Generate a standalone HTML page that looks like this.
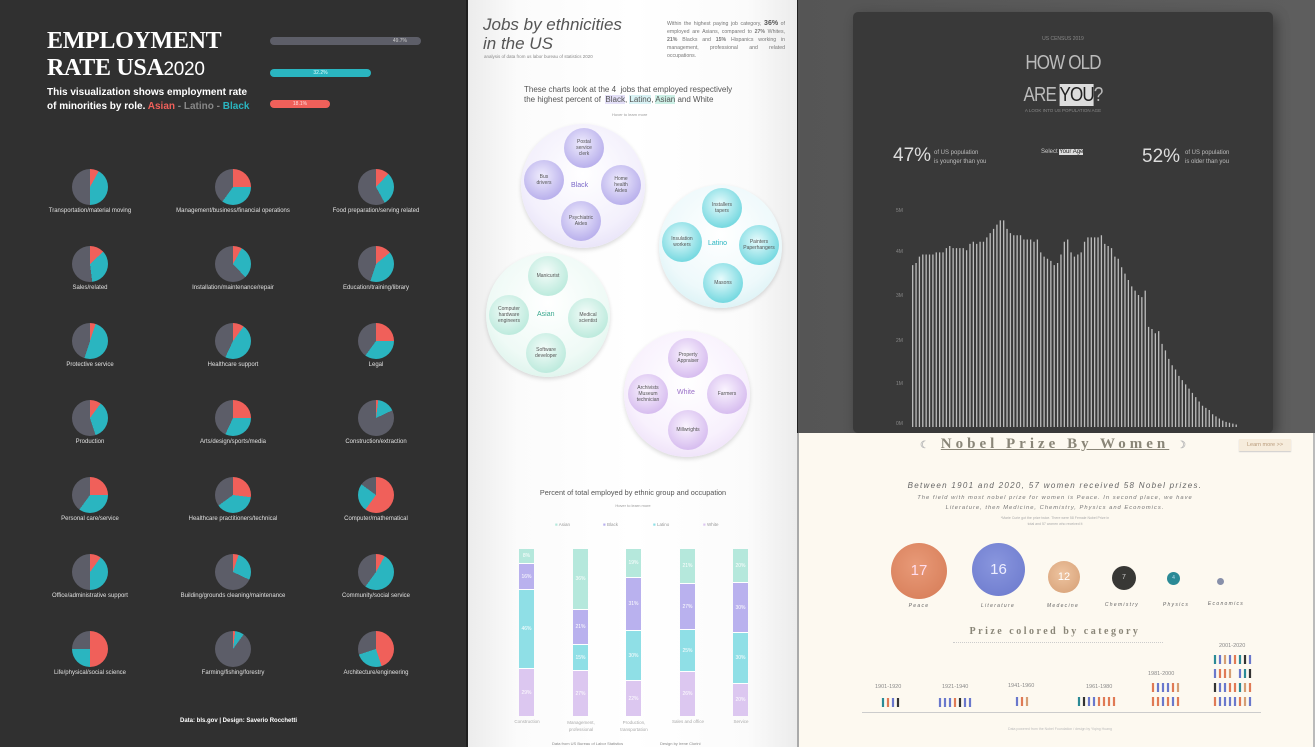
<!DOCTYPE html>
<html><head><meta charset="utf-8"><style>
*{margin:0;padding:0;box-sizing:border-box}
body{width:1315px;height:747px;overflow:hidden;position:relative;background:#2f2f2f;font-family:"Liberation Sans",sans-serif}
.a{position:absolute}
.pie{position:absolute;width:36px;height:36px;border-radius:50%}
.pl{position:absolute;width:160px;text-align:center;color:#e0e0e0;font-size:6px}
.bc{position:absolute;border-radius:50%;background:radial-gradient(circle at 50% 40%,#fff 0%,#f3f0fc 60%,#ddd6f4 100%);box-shadow:0 2px 4px rgba(0,0,0,.15)}
.sc{position:absolute;width:40px;height:40px;border-radius:50%;display:flex;align-items:center;justify-content:center;text-align:center;font-size:5px;line-height:6px;color:#555}
.sb{position:absolute;width:15px}
.sb div{color:#fff;font-size:5px;text-align:center;display:flex;align-items:center;justify-content:center;border-bottom:1px solid #fff}
</style></head><body>
<!-- LEFT PANEL -->
<div class="a" style="left:0;top:0;width:466px;height:747px;background:#303030"></div>
<div class="a" style="left:47px;top:28px;color:#fff;font-family:'Liberation Serif',serif;font-weight:bold;font-size:24px;line-height:27px;letter-spacing:-0.3px">EMPLOYMENT<br>RATE USA<span style="font-weight:normal;font-family:'Liberation Sans',sans-serif;font-size:19px">2020</span></div>
<div class="a" style="left:47px;top:86px;color:#fff;font-size:10px;font-weight:bold;line-height:14px">This visualization shows employment rate<br>of minorities by role. <span style="color:#f0605a">Asian</span> <span style="color:#888">- Latino -</span> <span style="color:#2ab5c0">Black</span></div>
<div class="a" style="left:270px;top:37px;width:151px;height:8px;border-radius:4px;background:#5d5e68;color:#ccc;font-size:5px;text-align:right;padding-right:14px;line-height:8px">49.7%</div>
<div class="a" style="left:270px;top:69px;width:101px;height:8px;border-radius:4px;background:#2ab5c0;color:#dff;font-size:5px;text-align:center;line-height:8px">32.2%</div>
<div class="a" style="left:270px;top:100px;width:60px;height:8px;border-radius:4px;background:#f0605a;color:#fdd;font-size:5px;text-align:center;line-height:8px">18.1%</div>
<div class="a" style="left:180px;top:718px;color:#fff;font-size:6px;font-weight:bold">Data: bls.gov | Design: Saverio Rocchetti</div>

<div class="pie" style="left:72px;top:169px;background:conic-gradient(#f0605a 0 8%,#2ab5c0 0 50%,#5c5d68 0)"></div>
<div class="pie" style="left:215px;top:169px;background:conic-gradient(#f0605a 0 25%,#2ab5c0 0 60%,#5c5d68 0)"></div>
<div class="pie" style="left:358px;top:169px;background:conic-gradient(#f0605a 0 12%,#2ab5c0 0 42%,#5c5d68 0)"></div>
<div class="pie" style="left:72px;top:246px;background:conic-gradient(#f0605a 0 13%,#2ab5c0 0 48%,#5c5d68 0)"></div>
<div class="pie" style="left:215px;top:246px;background:conic-gradient(#f0605a 0 8%,#2ab5c0 0 38%,#5c5d68 0)"></div>
<div class="pie" style="left:358px;top:246px;background:conic-gradient(#f0605a 0 14%,#2ab5c0 0 55%,#5c5d68 0)"></div>
<div class="pie" style="left:72px;top:323px;background:conic-gradient(#f0605a 0 5%,#2ab5c0 0 55%,#5c5d68 0)"></div>
<div class="pie" style="left:215px;top:323px;background:conic-gradient(#f0605a 0 10%,#2ab5c0 0 57%,#5c5d68 0)"></div>
<div class="pie" style="left:358px;top:323px;background:conic-gradient(#f0605a 0 25%,#2ab5c0 0 60%,#5c5d68 0)"></div>
<div class="pie" style="left:72px;top:400px;background:conic-gradient(#f0605a 0 10%,#2ab5c0 0 45%,#5c5d68 0)"></div>
<div class="pie" style="left:215px;top:400px;background:conic-gradient(#f0605a 0 25%,#2ab5c0 0 57%,#5c5d68 0)"></div>
<div class="pie" style="left:358px;top:400px;background:conic-gradient(#f0605a 0 2%,#2ab5c0 0 18%,#5c5d68 0)"></div>
<div class="pie" style="left:72px;top:477px;background:conic-gradient(#f0605a 0 25%,#2ab5c0 0 60%,#5c5d68 0)"></div>
<div class="pie" style="left:215px;top:477px;background:conic-gradient(#f0605a 0 27%,#2ab5c0 0 65%,#5c5d68 0)"></div>
<div class="pie" style="left:358px;top:477px;background:conic-gradient(#f0605a 0 60%,#2ab5c0 0 85%,#5c5d68 0)"></div>
<div class="pie" style="left:72px;top:554px;background:conic-gradient(#f0605a 0 10%,#2ab5c0 0 50%,#5c5d68 0)"></div>
<div class="pie" style="left:215px;top:554px;background:conic-gradient(#f0605a 0 5%,#2ab5c0 0 32%,#5c5d68 0)"></div>
<div class="pie" style="left:358px;top:554px;background:conic-gradient(#f0605a 0 8%,#2ab5c0 0 60%,#5c5d68 0)"></div>
<div class="pie" style="left:72px;top:631px;background:conic-gradient(#f0605a 0 50%,#2ab5c0 0 75%,#5c5d68 0)"></div>
<div class="pie" style="left:215px;top:631px;background:conic-gradient(#f0605a 0 2%,#2ab5c0 0 10%,#5c5d68 0)"></div>
<div class="pie" style="left:358px;top:631px;background:conic-gradient(#f0605a 0 45%,#2ab5c0 0 70%,#5c5d68 0)"></div>

<div class="pl" style="left:10px;top:208px">Transportation/material moving</div>
<div class="pl" style="left:153px;top:208px">Management/business/financial operations</div>
<div class="pl" style="left:296px;top:208px">Food preparation/serving related</div>
<div class="pl" style="left:10px;top:285px">Sales/related</div>
<div class="pl" style="left:153px;top:285px">Installation/maintenance/repair</div>
<div class="pl" style="left:296px;top:285px">Education/training/library</div>
<div class="pl" style="left:10px;top:362px">Protective service</div>
<div class="pl" style="left:153px;top:362px">Healthcare support</div>
<div class="pl" style="left:296px;top:362px">Legal</div>
<div class="pl" style="left:10px;top:439px">Production</div>
<div class="pl" style="left:153px;top:439px">Arts/design/sports/media</div>
<div class="pl" style="left:296px;top:439px">Construction/extraction</div>
<div class="pl" style="left:10px;top:516px">Personal care/service</div>
<div class="pl" style="left:153px;top:516px">Healthcare practitioners/technical</div>
<div class="pl" style="left:296px;top:516px">Computer/mathematical</div>
<div class="pl" style="left:10px;top:593px">Office/administrative support</div>
<div class="pl" style="left:153px;top:593px">Building/grounds cleaning/maintenance</div>
<div class="pl" style="left:296px;top:593px">Community/social service</div>
<div class="pl" style="left:10px;top:670px">Life/physical/social science</div>
<div class="pl" style="left:153px;top:670px">Farming/fishing/forestry</div>
<div class="pl" style="left:296px;top:670px">Architecture/engineering</div>

<!-- MIDDLE PANEL -->
<div class="a" style="left:466px;top:0;width:332px;height:747px;background:#1f1f1f"></div>
<div class="a" style="left:468px;top:0;width:329px;height:747px;background:linear-gradient(90deg,#ececec,#fbfbfb 15%,#fff 50%,#fbfbfb 85%,#ececec)"></div>
<div class="a" style="left:483px;top:15px;color:#555;font-style:italic;font-size:17px;line-height:19px">Jobs by ethnicities<br>in the US</div>
<div class="a" style="left:484px;top:54px;color:#888;font-size:4.5px">analysis of data from us labor bureau of statistics 2020</div>
<div class="a" style="left:667px;top:20px;width:118px;color:#777;font-size:5.2px;line-height:8px;text-align:justify">Within the highest paying job category, <b style="color:#555;font-size:7px">36%</b> of employed are Asians, compared to <b>27%</b> Whites, <b>21%</b> Blacks and <b>15%</b> Hispanics working in management, professional and related occupations.</div>
<div class="a" style="left:524px;top:85px;color:#555;font-size:8px;line-height:10px">These charts look at the 4 &nbsp;jobs that employed respectively<br>the highest percent of &nbsp;<span style="background:#e4e0f8">Black</span>, <span style="background:#d8f2f4">Latino</span>, <span style="background:#cdf0e6">Asian</span> and White</div>
<div class="a" style="left:612px;top:112px;color:#999;font-size:4px">Hover to learn more</div>

<div class="bc" style="left:521px;top:124px;width:124px;height:124px"></div>
<div class="a" style="left:571px;top:182px;color:#7a68c8;font-size:7px">Black</div>
<div class="sc" style="left:564px;top:128px;background:radial-gradient(circle at 45% 40%,#f0edfd,#a59ae6)">Postal<br>service<br>clerk</div>
<div class="sc" style="left:524px;top:160px;background:radial-gradient(circle at 45% 40%,#f0edfd,#a59ae6)">Bus<br>drivers</div>
<div class="sc" style="left:601px;top:165px;background:radial-gradient(circle at 45% 40%,#f0edfd,#a59ae6)">Home<br>health<br>Aides</div>
<div class="sc" style="left:561px;top:201px;background:radial-gradient(circle at 45% 40%,#f0edfd,#a59ae6)">Psychiatric<br>Aides</div>

<div class="bc" style="left:659px;top:185px;width:123px;height:123px;background:radial-gradient(circle at 50% 40%,#fff 0%,#eef9fb 60%,#c9ecf0 100%)"></div>
<div class="a" style="left:708px;top:240px;color:#2ab5c0;font-size:7px">Latino</div>
<div class="sc" style="left:702px;top:188px;background:radial-gradient(circle at 45% 40%,#e8fbfc,#4cccd6)">Installers<br>tapers</div>
<div class="sc" style="left:662px;top:222px;background:radial-gradient(circle at 45% 40%,#e8fbfc,#4cccd6)">Insulation<br>workers</div>
<div class="sc" style="left:739px;top:225px;background:radial-gradient(circle at 45% 40%,#e8fbfc,#4cccd6)">Painters<br>Paperhangers</div>
<div class="sc" style="left:703px;top:263px;background:radial-gradient(circle at 45% 40%,#e8fbfc,#4cccd6)">Masons</div>

<div class="bc" style="left:486px;top:253px;width:124px;height:124px;background:radial-gradient(circle at 50% 40%,#fff 0%,#effaf6 60%,#cdeee3 100%)"></div>
<div class="a" style="left:537px;top:311px;color:#3aa88e;font-size:7px">Asian</div>
<div class="sc" style="left:528px;top:256px;background:radial-gradient(circle at 45% 40%,#f4fcf9,#a9e4d3)">Manicurist</div>
<div class="sc" style="left:489px;top:295px;background:radial-gradient(circle at 45% 40%,#f4fcf9,#a9e4d3)">Computer<br>hardware<br>engineers</div>
<div class="sc" style="left:568px;top:298px;background:radial-gradient(circle at 45% 40%,#f4fcf9,#a9e4d3)">Medical<br>scientist</div>
<div class="sc" style="left:526px;top:333px;background:radial-gradient(circle at 45% 40%,#f4fcf9,#a9e4d3)">Software<br>developer</div>

<div class="bc" style="left:624px;top:331px;width:126px;height:126px;background:radial-gradient(circle at 50% 40%,#fff 0%,#f8f1fd 60%,#e4d2f4 100%)"></div>
<div class="a" style="left:677px;top:389px;color:#9a6fc8;font-size:7px">White</div>
<div class="sc" style="left:668px;top:338px;background:radial-gradient(circle at 45% 40%,#faf4fe,#caa9ea)">Property<br>Appraiser</div>
<div class="sc" style="left:628px;top:374px;background:radial-gradient(circle at 45% 40%,#faf4fe,#caa9ea)">Archivists<br>Museum<br>technician</div>
<div class="sc" style="left:707px;top:374px;background:radial-gradient(circle at 45% 40%,#faf4fe,#caa9ea)">Farmers</div>
<div class="sc" style="left:668px;top:410px;background:radial-gradient(circle at 45% 40%,#faf4fe,#caa9ea)">Millwrights</div>

<div class="a" style="left:469px;top:488px;width:328px;text-align:center;color:#555;font-size:7.3px">Percent of total employed by ethnic group and occupation</div>
<div class="a" style="left:469px;top:503px;width:328px;text-align:center;color:#999;font-size:4px">Hover to learn more</div>
<div class="a" style="left:555px;top:522px;color:#999;font-size:4.5px"><span style="color:#b5e8dc">■</span> Asian</div>
<div class="a" style="left:603px;top:522px;color:#999;font-size:4.5px"><span style="color:#b9b1ee">■</span> Black</div>
<div class="a" style="left:653px;top:522px;color:#999;font-size:4.5px"><span style="color:#8fdfe6">■</span> Latino</div>
<div class="a" style="left:703px;top:522px;color:#999;font-size:4.5px"><span style="color:#dcc7f0">■</span> White</div>

<div class="sb" style="left:519px;top:549px"><div style="height:15px;background:#b5e8dc">8%</div><div style="height:26px;background:#b9b1ee">16%</div><div style="height:79px;background:#8fdfe6">46%</div><div style="height:47px;background:#dcc7f0;border:0">29%</div></div>
<div class="sb" style="left:573px;top:549px"><div style="height:61px;background:#b5e8dc">36%</div><div style="height:35px;background:#b9b1ee">21%</div><div style="height:26px;background:#8fdfe6">15%</div><div style="height:45px;background:#dcc7f0;border:0">27%</div></div>
<div class="sb" style="left:626px;top:549px"><div style="height:29px;background:#b5e8dc">19%</div><div style="height:53px;background:#b9b1ee">31%</div><div style="height:50px;background:#8fdfe6">30%</div><div style="height:35px;background:#dcc7f0;border:0">22%</div></div>
<div class="sb" style="left:680px;top:549px"><div style="height:35px;background:#b5e8dc">21%</div><div style="height:46px;background:#b9b1ee">27%</div><div style="height:42px;background:#8fdfe6">25%</div><div style="height:44px;background:#dcc7f0;border:0">26%</div></div>
<div class="sb" style="left:733px;top:549px"><div style="height:34px;background:#b5e8dc">20%</div><div style="height:50px;background:#b9b1ee">30%</div><div style="height:51px;background:#8fdfe6">30%</div><div style="height:32px;background:#dcc7f0;border:0">20%</div></div>
<div class="a" style="left:505px;top:719px;width:44px;text-align:center;color:#aaa;font-size:4.5px">Construction</div>
<div class="a" style="left:559px;top:719px;width:44px;text-align:center;color:#aaa;font-size:4.5px;line-height:7px">Management,<br>professional</div>
<div class="a" style="left:612px;top:719px;width:44px;text-align:center;color:#aaa;font-size:4.5px;line-height:7px">Production,<br>transportation</div>
<div class="a" style="left:666px;top:719px;width:44px;text-align:center;color:#aaa;font-size:4.5px">Sales and office</div>
<div class="a" style="left:719px;top:719px;width:44px;text-align:center;color:#aaa;font-size:4.5px">Service</div>
<div class="a" style="left:552px;top:741px;color:#888;font-size:4px">Data from US Bureau of Labor Statistics</div>
<div class="a" style="left:660px;top:741px;color:#888;font-size:4px">Design by Irene Clorini</div>

<!-- RIGHT TOP -->
<div class="a" style="left:798px;top:0;width:517px;height:433px;background:linear-gradient(90deg,#555,#5e5e5e)"></div>
<div class="a" style="left:853px;top:12px;width:420px;height:421px;background:#393939;border-radius:5px;box-shadow:4px 4px 12px rgba(0,0,0,.35)"></div>
<div class="a" style="left:853px;top:36px;width:420px;text-align:center;color:#888;font-size:5px">US CENSUS 2019</div>
<div class="a" style="left:853px;top:47px;width:420px;text-align:center;color:#bbb;font-size:20px;line-height:32px;letter-spacing:-1px;transform:scaleX(0.85)">HOW OLD<br>ARE <span style="background:#ddd;color:#222">YOU</span>?</div>
<div class="a" style="left:853px;top:108px;width:420px;text-align:center;color:#888;font-size:4.5px">A LOOK INTO US POPULATION AGE</div>
<div class="a" style="left:893px;top:145px;color:#ddd;font-size:19px">47%</div>
<div class="a" style="left:934px;top:149px;color:#bbb;font-size:6px;line-height:9px">of US population<br>is younger than you</div>
<div class="a" style="left:1041px;top:149px;color:#ccc;font-size:6px">Select <span style="background:#ddd;color:#222">Your Age</span></div>
<div class="a" style="left:1142px;top:146px;color:#ddd;font-size:19px">52%</div>
<div class="a" style="left:1185px;top:149px;color:#bbb;font-size:6px;line-height:9px">of US population<br>is older than you</div>
<div class="a" style="left:896px;top:208px;color:#888;font-size:5px">5M</div>
<div class="a" style="left:896px;top:249px;color:#888;font-size:5px">4M</div>
<div class="a" style="left:896px;top:293px;color:#888;font-size:5px">3M</div>
<div class="a" style="left:896px;top:338px;color:#888;font-size:5px">2M</div>
<div class="a" style="left:896px;top:381px;color:#888;font-size:5px">1M</div>
<div class="a" style="left:896px;top:421px;color:#888;font-size:5px">0M</div>
<svg class="a" style="left:0;top:0" width="1315" height="747">
<g transform="translate(911,427) scale(3.37,-4.26)">
<path fill="none" stroke="#bdbdbd" stroke-width="1.3" vector-effect="non-scaling-stroke" d="M0.5 0V38M1.5 0V38.5M2.5 0V40M3.5 0V40.5M4.5 0V40.5M5.5 0V40.5M6.5 0V40.5M7.5 0V41M8.5 0V41M9.5 0V41M10.5 0V42M11.5 0V42.5M12.5 0V42M13.5 0V42M14.5 0V42M15.5 0V42M16.5 0V41.5M17.5 0V43M18.5 0V43.5M19.5 0V43M20.5 0V43.5M21.5 0V43.5M22.5 0V44.5M23.5 0V45.5M24.5 0V46.5M25.5 0V47.5M26.5 0V48.5M27.5 0V48.5M28.5 0V46.5M29.5 0V45.5M30.5 0V45M31.5 0V45M32.5 0V45M33.5 0V44M34.5 0V44M35.5 0V44M36.5 0V43.5M37.5 0V44M38.5 0V41M39.5 0V40M40.5 0V39.5M41.5 0V39M42.5 0V38M43.5 0V38.5M44.5 0V40.5M45.5 0V43.5M46.5 0V44M47.5 0V41M48.5 0V40M49.5 0V40.5M50.5 0V41M51.5 0V43.5M52.5 0V44.5M53.5 0V44.5M54.5 0V44.5M55.5 0V44.5M56.5 0V45M57.5 0V43M58.5 0V42.5M59.5 0V42M60.5 0V40M61.5 0V39.5M62.5 0V37.5M63.5 0V36M64.5 0V34.5M65.5 0V33M66.5 0V32M67.5 0V31M68.5 0V30.5M69.5 0V32M70.5 0V23.5M71.5 0V23M72.5 0V22M73.5 0V22.5M74.5 0V19.5M75.5 0V18M76.5 0V16M77.5 0V14.5M78.5 0V13.5M79.5 0V12M80.5 0V11M81.5 0V10M82.5 0V9M83.5 0V8M84.5 0V7M85.5 0V6M86.5 0V5M87.5 0V4.5M88.5 0V4M89.5 0V3M90.5 0V2.5M91.5 0V2M92.5 0V1.5M93.5 0V1.2M94.5 0V1M95.5 0V0.8M96.5 0V0.6"/>
</g></svg>

<!-- RIGHT BOTTOM -->
<div class="a" style="left:797px;top:433px;width:518px;height:314px;background:#fdf9f0;border-left:2px solid #aaa;border-right:2px solid #bbb"></div>
<div class="a" style="left:860px;top:436px;width:390px;text-align:center;color:#8a8678;font-family:'Liberation Serif',serif;font-weight:bold;font-size:15px;letter-spacing:4px"><span style="font-size:10px;color:#bbb">☾</span> <u>Nobel Prize By Women</u> <span style="font-size:10px;color:#bbb">☽</span></div>
<div class="a" style="left:1239px;top:439px;width:52px;height:12px;background:#f6ecdc;color:#b89a7a;font-size:5.5px;line-height:12px;text-align:center;box-shadow:0 1px 1px #ccc">Learn more &gt;&gt;</div>
<div class="a" style="left:860px;top:481px;width:390px;text-align:center;color:#666;font-style:italic;font-size:8px;letter-spacing:1.3px">Between 1901 and 2020, 57 women received 58 Nobel prizes.</div>
<div class="a" style="left:860px;top:493px;width:390px;text-align:center;color:#777;font-style:italic;font-size:5.8px;letter-spacing:1px;line-height:10px">The field with most nobel prize for women is Peace. In second place, we have<br>Literature, then Medicine, Chemistry, Physics and Economics.</div>
<div class="a" style="left:860px;top:515px;width:390px;text-align:center;color:#aaa;font-size:3.5px;line-height:6px">*Marie Curie got the prize twice. There were 58 Female Nobel Prize in<br>total and 57 women who received it</div>
<div class="a" style="left:891px;top:543px;width:56px;height:56px;border-radius:50%;background:radial-gradient(circle at 45% 40%,#e89a78,#d57a55);color:#fde;font-size:15px;text-align:center;line-height:56px">17</div>
<div class="a" style="left:972px;top:543px;width:53px;height:53px;border-radius:50%;background:radial-gradient(circle at 45% 40%,#8996de,#6a78cc);color:#eef;font-size:15px;text-align:center;line-height:53px">16</div>
<div class="a" style="left:1048px;top:561px;width:32px;height:32px;border-radius:50%;background:radial-gradient(circle at 45% 40%,#eec4a0,#d59e74);color:#fff;font-size:11px;text-align:center;line-height:32px">12</div>
<div class="a" style="left:1112px;top:566px;width:24px;height:24px;border-radius:50%;background:#383835;color:#ccc;font-size:7px;text-align:center;line-height:24px">7</div>
<div class="a" style="left:1167px;top:572px;width:13px;height:13px;border-radius:50%;background:#2b8a96;color:#bde;font-size:5px;text-align:center;line-height:13px">4</div>
<div class="a" style="left:1217px;top:578px;width:7px;height:7px;border-radius:50%;background:#8890aa"></div>
<div class="a" style="left:889px;top:603px;width:60px;text-align:center;color:#666;font-style:italic;font-size:5px;letter-spacing:1.3px">Peace</div>
<div class="a" style="left:968px;top:603px;width:60px;text-align:center;color:#666;font-style:italic;font-size:5px;letter-spacing:1.3px">Literature</div>
<div class="a" style="left:1033px;top:603px;width:60px;text-align:center;color:#666;font-style:italic;font-size:5px;letter-spacing:1.3px">Medecine</div>
<div class="a" style="left:1092px;top:602px;width:60px;text-align:center;color:#666;font-style:italic;font-size:5px;letter-spacing:1.3px">Chemistry</div>
<div class="a" style="left:1146px;top:602px;width:60px;text-align:center;color:#666;font-style:italic;font-size:5px;letter-spacing:1.3px">Physics</div>
<div class="a" style="left:1196px;top:601px;width:60px;text-align:center;color:#666;font-style:italic;font-size:5px;letter-spacing:1.3px">Economics</div>
<div class="a" style="left:900px;top:626px;width:310px;text-align:center;color:#8a8678;font-family:'Liberation Serif',serif;font-weight:bold;font-size:10px;letter-spacing:2.5px">Prize colored by category</div>
<div class="a" style="left:953px;top:642px;width:210px;border-top:1px dotted #ccc"></div>
<div class="a" style="left:862px;top:712px;width:399px;border-top:1px solid #ccc"></div>
<div class="a" style="left:875px;top:684px;color:#888;font-size:5.5px">1901-1920</div>
<div class="a" style="left:942px;top:684px;color:#888;font-size:5.5px">1921-1940</div>
<div class="a" style="left:1008px;top:683px;color:#888;font-size:5.5px">1941-1960</div>
<div class="a" style="left:1086px;top:684px;color:#888;font-size:5.5px">1961-1980</div>
<div class="a" style="left:1148px;top:671px;color:#888;font-size:5.5px">1981-2000</div>
<div class="a" style="left:1219px;top:643px;color:#888;font-size:5.5px">2001-2020</div>
<svg class="a" style="left:0;top:0" width="1315" height="747">
<g stroke-width="2.2">
<path stroke="#2b8a96" d="M883 698v9"/><path stroke="#e07a55" d="M888 698v9"/><path stroke="#6a78cc" d="M893 698v9"/><path stroke="#333" d="M898 698v9"/>
<path stroke="#6a78cc" d="M940 698v9M945 698v9M950 698v9M965 698v9M970 698v9"/><path stroke="#e07a55" d="M955 698v9"/><path stroke="#333" d="M960 698v9"/>
<path stroke="#6a78cc" d="M1017 697v9"/><path stroke="#e07a55" d="M1022 697v9"/><path stroke="#d59e74" d="M1027 697v9"/>
<path stroke="#2b8a96" d="M1079 697v9"/><path stroke="#333" d="M1084 697v9"/><path stroke="#6a78cc" d="M1089 697v9M1094 697v9"/><path stroke="#e07a55" d="M1099 697v9M1104 697v9M1109 697v9M1114 697v9"/>
<path stroke="#e07a55" d="M1153 697v9M1158 697v9M1168 697v9M1178 697v9M1153 683v9M1173 683v9"/><path stroke="#6a78cc" d="M1163 697v9M1173 697v9M1158 683v9M1163 683v9M1168 683v9"/><path stroke="#d59e74" d="M1178 683v9"/>
<path stroke="#e07a55" d="M1215 697v9M1240 697v9M1230 683v9M1235 683v9M1220 669v9M1225 669v9M1235 655v9"/><path stroke="#6a78cc" d="M1220 697v9M1225 697v9M1230 697v9M1235 697v9M1250 697v9M1220 683v9M1225 683v9M1215 669v9M1240 669v9M1220 655v9M1230 655v9M1250 655v9"/><path stroke="#d59e74" d="M1245 697v9M1245 683v9M1230 669v9M1225 655v9"/><path stroke="#333" d="M1215 683v9M1250 669v9M1245 655v9"/><path stroke="#2b8a96" d="M1240 683v9M1245 669v9M1215 655v9M1240 655v9"/><path stroke="#e07a55" d="M1250 683v9"/>
</g></svg>
<div class="a" style="left:960px;top:727px;width:200px;text-align:center;color:#bbb;font-size:3.5px">Data powered from the Nobel Foundation / design by Yiqing Huang</div>
</body></html>
